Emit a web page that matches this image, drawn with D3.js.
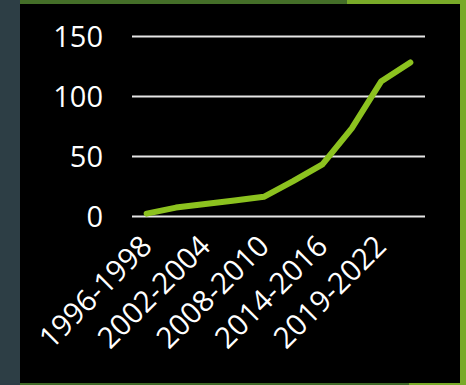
<!DOCTYPE html>
<html>
<head>
<meta charset="utf-8">
<script src="https://cdn.jsdelivr.net/npm/d3@7/dist/d3.min.js"></script>
<style>
  html, body { margin: 0; padding: 0; background: #2d3e45; }
  svg { display: block; }
</style>
</head>
<body>
<svg id="chart" width="466" height="385"></svg>
<script>
// Periods on the category axis (every other one is labelled)
const periods = [
  "1996-1998", "1999-2001", "2002-2004", "2005-2007", "2008-2010",
  "2011-2013", "2014-2016", "2017-2018", "2019-2022", "2023-2024"
];
// Count per period
const counts = [2, 7, 10, 13, 16, 29, 43, 73, 112, 128];
// Value-axis ticks
const yTicks = [0, 50, 100, 150];

const svg = d3.select("#chart");
const W = 466, H = 385;

// Slide frame: slate edge, black panel, green trim
svg.append("rect").attr("x", 0).attr("y", 0).attr("width", W).attr("height", H).attr("fill", "#2d3e45");
svg.append("rect").attr("x", 20).attr("y", 0).attr("width", W - 20).attr("height", H).attr("fill", "#000");
svg.append("rect").attr("x", 20).attr("y", 0).attr("width", 327).attr("height", 4).attr("fill", "#446e28");
svg.append("rect").attr("x", 347).attr("y", 0).attr("width", W - 347).attr("height", 4).attr("fill", "#79aa28");
svg.append("rect").attr("x", 460).attr("y", 0).attr("width", 6).attr("height", H).attr("fill", "#79aa28");
svg.append("rect").attr("x", 20).attr("y", 383).attr("width", 389).attr("height", 2).attr("fill", "#3f6a27");
svg.append("rect").attr("x", 409).attr("y", 383).attr("width", W - 409).attr("height", 2).attr("fill", "#79aa28");

const plot = { left: 132, right: 425, top: 36, bottom: 216 };

const x = d3.scaleBand().domain(periods).range([plot.left, plot.right]).padding(0);
const y = d3.scaleLinear().domain([0, 150]).range([plot.bottom, plot.top]);

const font = "'Open Sans', 'Noto Sans', sans-serif";

// Horizontal gridlines and value labels
const yAxis = d3.axisLeft(y).tickValues(yTicks).tickSize(-(plot.right - plot.left)).tickPadding(29);
const gy = svg.append("g").attr("transform", `translate(${plot.left},0)`).call(yAxis);
gy.select(".domain").remove();
gy.selectAll(".tick line").attr("stroke", "#e6e6e6").attr("stroke-width", 2);
gy.selectAll(".tick text")
  .attr("fill", "#fff")
  .attr("font-family", font)
  .attr("font-size", 29)
  .attr("dy", "0.35em");

// Category labels, every other period, slanted
const xAxis = d3.axisBottom(x)
  .tickValues(periods.filter((d, i) => i % 2 === 0))
  .tickSize(0)
  .tickPadding(0);
const gx = svg.append("g").attr("transform", `translate(0,${plot.bottom})`).call(xAxis);
gx.select(".domain").remove();
gx.selectAll(".tick text")
  .attr("fill", "#fff")
  .attr("font-family", font)
  .attr("font-size", 29.5)
  .attr("text-anchor", "end")
  .attr("dy", null)
  .attr("y", 0)
  .attr("transform", "translate(7,32) rotate(-45)");

// Trend line
const line = d3.line()
  .x((d, i) => x(periods[i]) + x.bandwidth() / 2)
  .y(d => y(d));

svg.append("path")
  .datum(counts)
  .attr("d", line)
  .attr("fill", "none")
  .attr("stroke", "#8cc21f")
  .attr("stroke-width", 6)
  .attr("stroke-linecap", "round")
  .attr("stroke-linejoin", "round");
</script>
</body>
</html>
